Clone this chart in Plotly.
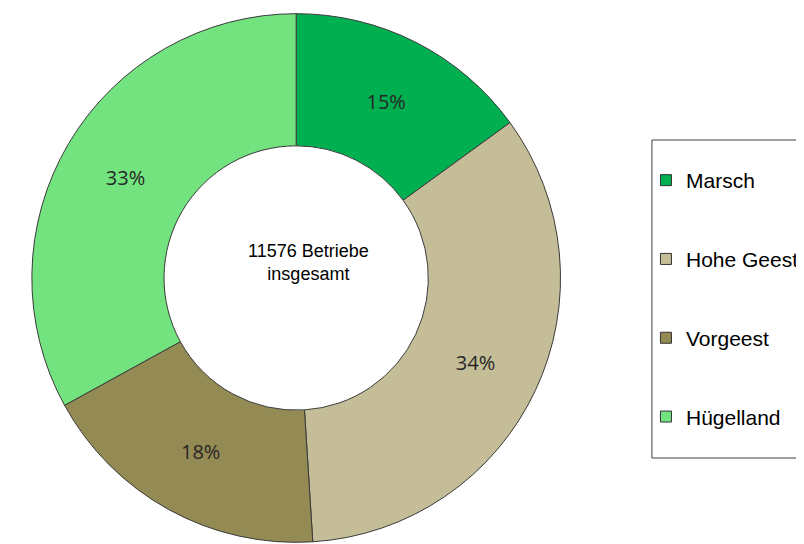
import plotly.graph_objects as go

regions = ["Marsch", "Hohe Geest", "Vorgeest", "Hügelland"]
shares = [15, 34, 18, 33]
colors = ["#00B050", "#C4BD97", "#948A54", "#72E37F"]
total_label = "11576 Betriebe<br>insgesamt"

# the page keeps its default 8px body margin, so the figure is sized to the rest of the window
W, H = 796, 536

fig = go.Figure()

fig.add_trace(go.Pie(
    labels=regions,
    values=shares,
    sort=False,
    direction="clockwise",
    rotation=0,
    hole=0.5,
    marker=dict(colors=colors, line=dict(color="#3a3a3a", width=1)),
    texttemplate="%{percent:.0%}",
    textposition="inside",
    insidetextorientation="horizontal",
    textfont=dict(family="Open Sans", size=20, color="#262626"),
    hoverinfo="label+percent",
    showlegend=False,
    domain=dict(x=[24 / W, 556 / W], y=[0, 532 / H]),
))

# legend entries (pie legend can't be spaced out, so use empty marker traces)
for name, col in zip(regions, colors):
    fig.add_trace(go.Scatter(
        x=[None], y=[None], mode="markers", name=name, legendgroup=name,
        marker=dict(symbol="square", size=11, color=col, line=dict(color="#333333", width=1)),
    ))

# legend frame runs off the right edge, so leave the right side open
bx0, bx1 = 648 / W, 1.0
by0, by1 = 1 - 450 / H, 1 - 132 / H
frame = f"M {bx1},{by0} L {bx0},{by0} L {bx0},{by1} L {bx1},{by1}"

fig.update_layout(
    width=W, height=H,
    margin=dict(l=0, r=0, t=0, b=0),
    paper_bgcolor="white",
    plot_bgcolor="white",
    xaxis=dict(visible=False),
    yaxis=dict(visible=False),
    legend=dict(
        x=642 / W, y=1 - 152 / H, xanchor="left", yanchor="top",
        font=dict(family="Liberation Sans", size=21, color="black"),
        tracegroupgap=48.5,
        bgcolor="rgba(0,0,0,0)",
        borderwidth=0,
    ),
    shapes=[dict(
        type="path", xref="paper", yref="paper", path=frame,
        line=dict(color="#404040", width=1),
    )],
    annotations=[dict(
        text=total_label, xref="paper", yref="paper",
        x=302 / W, y=1 - 254 / H, showarrow=False,
        font=dict(family="Liberation Sans", size=18, color="black"),
    )],
)

fig.write_html("out.html", config={"displayModeBar": False})
